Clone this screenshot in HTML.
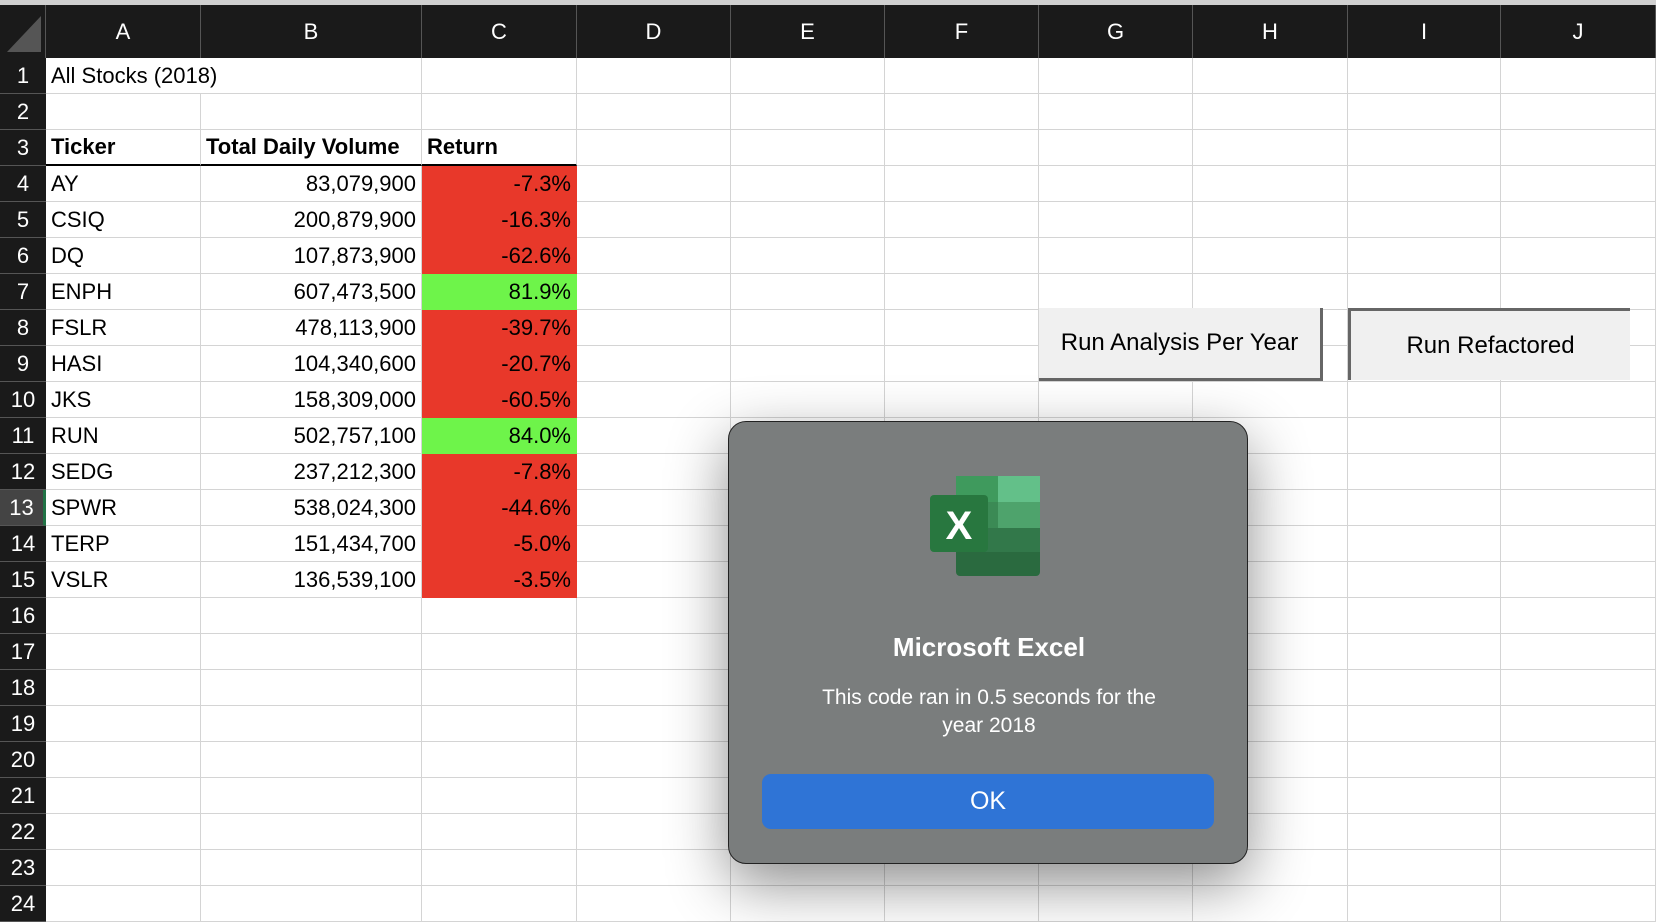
<!DOCTYPE html>
<html><head><meta charset="utf-8">
<style>
*{box-sizing:border-box;margin:0;padding:0}
body{width:1656px;height:918px;overflow:hidden;background:#fff;font-family:"Liberation Sans",sans-serif;position:relative}
.abs{position:absolute}
.hdr{background:#1a1a1a;color:#fff;font-size:22px;display:flex;align-items:center;justify-content:center;border-right:1px solid #555}
.rh{background:#1a1a1a;color:#fff;font-size:22px;display:flex;align-items:center;justify-content:center;border-bottom:1px solid #555}
.cell{border-right:1px solid #d4d4d4;border-bottom:1px solid #d4d4d4;font-size:22px;color:#000;display:flex;align-items:center;padding:0 5px;white-space:nowrap;overflow:visible}
.btn{background:#f0f0f0;font-size:24px;display:flex;align-items:center;justify-content:center;color:#000}
</style></head><body>
<div class="abs" style="left:0;top:0;width:1656px;height:5px;background:#d0d0d0"></div>
<div id="sheet"></div>
<div class="abs btn" style="left:1039px;top:308px;width:284px;height:73px;border-right:3px solid #666;border-bottom:3px solid #666">Run Analysis Per Year</div>
<div class="abs btn" style="left:1348px;top:308px;width:282px;height:72px;border-left:3px solid #666;border-top:3px solid #666">Run Refactored</div>
<div class="abs" style="left:728px;top:421px;width:520px;height:443px;background:#7a7d7d;border:1px solid #222;border-radius:18px;box-shadow:0 20px 60px rgba(0,0,0,0.45)">
  <svg class="abs" style="left:201px;top:54px" width="114" height="102" viewBox="0 0 114 102">
    <rect x="26" y="0" width="84" height="100" rx="4" fill="#2a6a3f"/>
    <rect x="68" y="0" width="42" height="26" fill="#63c089"/>
    <rect x="26" y="0" width="42" height="26" fill="#3f9a5d"/>
    <rect x="68" y="26" width="42" height="26" fill="#4ea36c"/>
    <rect x="26" y="26" width="42" height="26" fill="#3b8a55"/>
    <rect x="26" y="52" width="84" height="24" fill="#32784a"/>
    <rect x="0" y="19" width="58" height="57" rx="4" fill="#28773f"/>
    <text x="29" y="63" font-size="40" font-weight="bold" fill="#fff" text-anchor="middle" font-family="Liberation Sans, sans-serif">X</text>
  </svg>
  <div class="abs" style="left:0;width:520px;top:210px;text-align:center;color:#fff;font-weight:bold;font-size:26px">Microsoft Excel</div>
  <div class="abs" style="left:0;width:520px;top:262px;text-align:center;color:#fff;font-size:21px;line-height:28px">This code ran in 0.5 seconds for the<br>year 2018</div>
  <div class="abs" style="left:33px;top:352px;width:452px;height:55px;background:#2f74d6;border-radius:9px;color:#fff;font-size:25px;display:flex;align-items:center;justify-content:center">OK</div>
</div>
<script>
const tickers=["AY","CSIQ","DQ","ENPH","FSLR","HASI","JKS","RUN","SEDG","SPWR","TERP","VSLR"];
const volumes=["83,079,900","200,879,900","107,873,900","607,473,500","478,113,900","104,340,600","158,309,000","502,757,100","237,212,300","538,024,300","151,434,700","136,539,100"];
const returns=[-7.3,-16.3,-62.6,81.9,-39.7,-20.7,-60.5,84.0,-7.8,-44.6,-5.0,-3.5];
const colLetters=["A","B","C","D","E","F","G","H","I","J"];
const colX=[46,201,422,577,731,885,1039,1193,1348,1501,1656];
const top0=58,rh=36;
const sheet=document.getElementById('sheet');
function mk(cls,l,t,w,h,txt){const d=document.createElement('div');d.className='abs '+cls;d.style.left=l+'px';d.style.top=t+'px';d.style.width=w+'px';d.style.height=h+'px';if(txt!==undefined)d.textContent=txt;sheet.appendChild(d);return d;}
const corner=mk('hdr',0,5,46,53);


corner.innerHTML='<svg width="40" height="44"><polygon points="38,6 38,42 4,42" fill="#555"/></svg>';
colLetters.forEach((c,i)=>{const d=mk('hdr',colX[i],5,colX[i+1]-colX[i],53,c);

});
for(let r=1;r<=24;r++){const y=top0+(r-1)*rh;
const d=mk('rh',0,y,46,rh,String(r));


if(r===13){d.style.background='#444';d.style.borderRight='3px solid #217346';}
for(let c=0;c<10;c++){
 let txt='',align='flex-start',bg='',bold=false;
 const i=r-4;
 if(r===1&&c===0)txt='All Stocks (2018)';
 if(r===3){if(c===0)txt='Ticker';if(c===1)txt='Total Daily Volume';if(c===2)txt='Return';bold=true;}
 if(i>=0&&i<tickers.length){
  if(c===0)txt=tickers[i];
  if(c===1){txt=volumes[i];align='flex-end';}
  if(c===2){txt=returns[i].toFixed(1)+'%';align='flex-end';bg=returns[i]>=0?'#6ef44a':'#e8382a';}
 }
 const e=mk('cell',colX[c],y,colX[c+1]-colX[c],rh,txt);
 
 
 e.style.justifyContent=align;
 if(bold)e.style.fontWeight='bold';
 if(bg){e.style.background=bg;e.style.borderRight='1px solid '+bg;e.style.borderBottom='1px solid '+bg;}
 if(r===1&&c===0)e.style.borderRight='none';
 if(r===3&&c<3)e.style.borderBottom='2px solid #000';
}}
</script>
</body></html>
